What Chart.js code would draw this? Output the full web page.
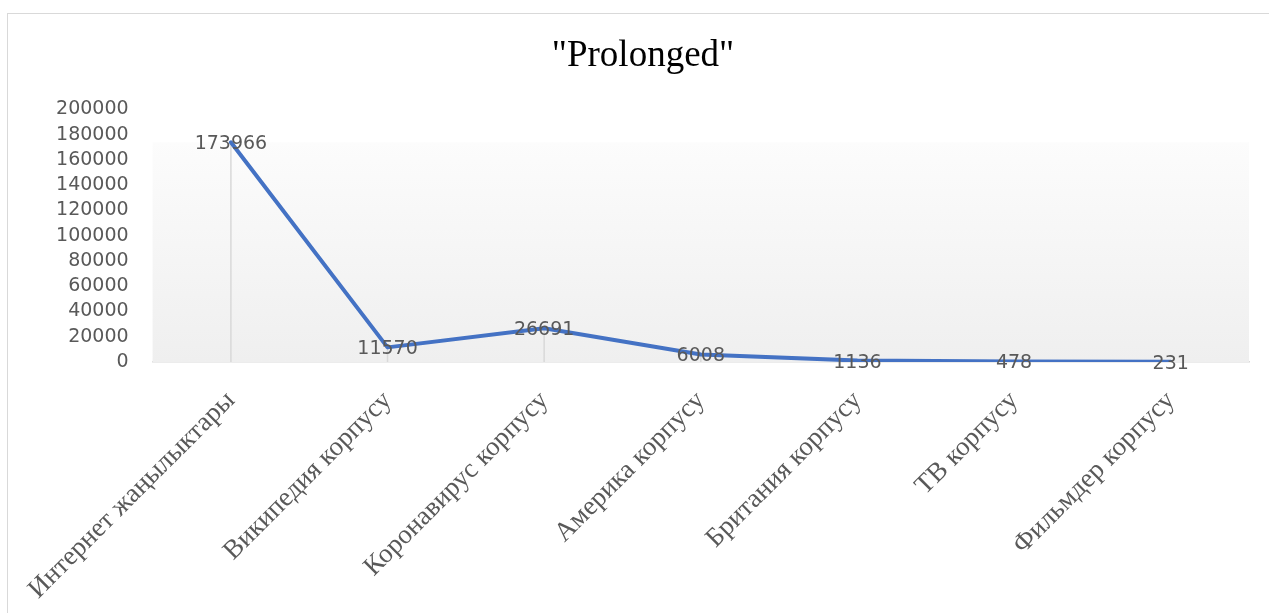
<!DOCTYPE html>
<html>
<head>
<meta charset="utf-8">
<script src="https://cdn.jsdelivr.net/npm/chart.js@4.4.1/dist/chart.umd.min.js"></script>
<style>
  html, body { margin: 0; padding: 0; background: #fff; overflow: hidden; }
  .frame {
    position: absolute; left: 7px; top: 13px;
    width: 1280px; height: 620px;
    border: 1px solid #d9d9d9;
  }
  .frame canvas { position: absolute; left: 0; top: 0; }
</style>
</head>
<body>
<div class="frame">
  <canvas id="prolongedChart" width="1262" height="600" style="width:1262px;height:600px"></canvas>
</div>
<script>
const categories = [
  'Интернет жаңылыктары',
  'Википедия корпусу',
  'Коронавирус корпусу',
  'Америка корпусу',
  'Британия корпусу',
  'ТВ корпусу',
  'Фильмдер корпусу'
];
const prolongedValues = [173966, 11570, 26691, 6008, 1136, 478, 231];
const yTicks = [0, 20000, 40000, 60000, 80000, 100000, 120000, 140000, 160000, 180000, 200000];

const gray = '#595959';
const lineGray = '#d9d9d9';

// soft gradient panel behind the line, from the highest point down to the axis
const panelPlugin = {
  id: 'panel',
  beforeDatasetsDraw(chart) {
    const { ctx, chartArea, scales } = chart;
    const top = scales.y.getPixelForValue(Math.max(...prolongedValues));
    const bottom = scales.y.getPixelForValue(0);
    const g = ctx.createLinearGradient(0, top, 0, bottom);
    g.addColorStop(0, '#fcfcfc');
    g.addColorStop(1, '#efefef');
    ctx.save();
    ctx.fillStyle = g;
    ctx.fillRect(chartArea.left, top, chartArea.right - chartArea.left, bottom - top);

    // drop lines from each point to the axis
    const meta = chart.getDatasetMeta(0);
    ctx.strokeStyle = lineGray;
    ctx.lineWidth = 1.5;
    meta.data.forEach(pt => {
      ctx.beginPath();
      ctx.moveTo(pt.x, pt.y);
      ctx.lineTo(pt.x, bottom);
      ctx.stroke();
    });
    ctx.restore();
  }
};

const valueLabelPlugin = {
  id: 'valueLabels',
  afterDatasetsDraw(chart) {
    const { ctx } = chart;
    const meta = chart.getDatasetMeta(0);
    ctx.save();
    ctx.font = '19px "DejaVu Sans"';
    ctx.fillStyle = gray;
    ctx.textAlign = 'center';
    ctx.textBaseline = 'middle';
    meta.data.forEach((pt, i) => {
      ctx.fillText(String(prolongedValues[i]), pt.x, pt.y + 2);
    });
    ctx.restore();
  }
};

document.addEventListener('DOMContentLoaded', () => {
  const ctx = document.getElementById('prolongedChart').getContext('2d');
  new Chart(ctx, {
    type: 'line',
    data: {
      labels: categories,
      datasets: [{
        label: '"Prolonged"',
        data: prolongedValues,
        borderColor: '#4472C4',
        borderWidth: 4,
        borderCapStyle: 'round',
        borderJoinStyle: 'round',
        pointRadius: 0,
        tension: 0,
        fill: false
      }]
    },
    options: {
      responsive: false,
      animation: false,
      layout: { padding: { left: 29, right: 21, top: 0, bottom: 0 } },
      plugins: {
        legend: { display: false },
        tooltip: { enabled: false },
        title: {
          display: true,
          text: '"Prolonged"',
          color: '#000',
          font: { family: '"Liberation Serif"', size: 37, weight: 'normal', lineHeight: 1.2 },
          padding: { top: 20, bottom: 31 }
        }
      },
      scales: {
        x: {
          offset: true,
          grid: { display: false },
          border: { display: true, color: lineGray, width: 1.5 },
          ticks: {
            autoSkip: false,
            minRotation: 45,
            maxRotation: 45,
            padding: 15,
            color: gray,
            font: { family: '"Liberation Serif"', size: 27 }
          },
          afterFit: scale => { scale.height = 252; }
        },
        y: {
          min: 0,
          max: 200000,
          afterBuildTicks: scale => { scale.ticks = yTicks.map(v => ({ value: v })); },
          grid: { display: false, drawTicks: false },
          border: { display: false },
          ticks: {
            autoSkip: false,
            padding: 24,
            color: gray,
            font: { family: '"DejaVu Sans"', size: 19, lineHeight: 1 },
            callback: v => String(v)
          },
          afterFit: scale => { scale.width = 114; }
        }
      }
    },
    plugins: [panelPlugin, valueLabelPlugin]
  });
});
</script>
</body>
</html>
